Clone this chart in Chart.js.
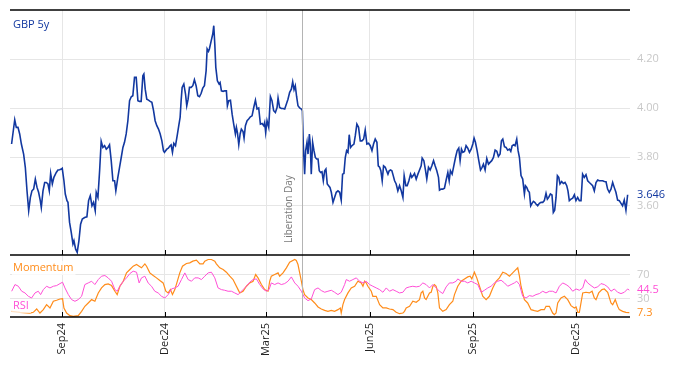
<!DOCTYPE html>
<html>
<head>
<meta charset="utf-8">
<script src="https://cdn.jsdelivr.net/npm/chart.js@4.4.1/dist/chart.umd.min.js"></script>
<style>
  body { margin: 0; background: #fff; }
  #wrap { width: 674px; height: 366px; }
</style>
</head>
<body>
<div id="wrap"><canvas id="chart" width="674" height="366"></canvas></div>
<script>
// ===== Data (day offset from startDate, value) =====
const startDate = '2024-07-18';

const gbp5y = [
  [0,3.853],[2.8,3.952],[4.2,3.921],[5.7,3.921],[7.2,3.894],[8.7,3.853],[10.7,3.812],[12.2,3.758],[13.7,3.662],[15.2,3.581],
  [16.7,3.635],[18.1,3.662],[19.6,3.669],[21.1,3.710],[22.6,3.676],[24.0,3.656],[25.5,3.622],[26.4,3.594],[27.9,3.662],[29.4,3.696],
  [30.8,3.696],[32.3,3.690],[33.5,3.662],[34.7,3.733],[36.2,3.690],[37.6,3.717],[39.7,3.737],[41.2,3.747],[42.7,3.748],[44.2,3.751],
  [45.0,3.754],[46.5,3.703],[47.7,3.649],[49.2,3.622],[50.1,3.615],[51.5,3.533],[53.0,3.492],[54.5,3.445],[55.4,3.458],[56.9,3.424],
  [58.3,3.411],[59.8,3.458],[61.3,3.526],[62.8,3.547],[64.9,3.553],[66.9,3.556],[68.4,3.622],[69.9,3.642],[71.4,3.601],[72.8,3.615],
  [74.3,3.581],[75.2,3.656],[76.7,3.635],[78.2,3.744],[79.6,3.864],[81.1,3.839],[82.6,3.846],[84.1,3.832],[85.6,3.839],[87.0,3.850],
  [88.5,3.785],[90.0,3.703],[91.5,3.703],[92.6,3.662],[94.4,3.717],[95.9,3.758],[97.4,3.798],[98.9,3.839],[100.3,3.860],[101.8,3.894],
  [103.3,3.948],[104.8,4.030],[106.3,4.046],[107.7,4.050],[109.2,4.125],[110.7,4.125],[112.2,4.030],[113.6,4.027],[115.1,4.027],[116.6,4.132],
  [117.5,4.139],[118.7,4.077],[120.1,4.036],[121.6,4.032],[123.1,4.027],[124.6,4.023],[126.1,3.989],[127.5,3.948],[129.0,3.928],[130.5,3.914],
  [132.0,3.894],[133.5,3.866],[134.9,3.826],[135.8,3.819],[137.9,3.832],[139.2,3.836],[140.8,3.846],[141.7,3.850],[142.9,3.819],[144.1,3.856],
  [145.6,3.846],[147.1,3.887],[148.5,3.928],[149.7,3.962],[150.6,4.030],[151.5,4.084],[153.0,4.098],[154.5,4.057],[155.6,4.009],[156.8,4.036],
  [158.0,4.084],[159.5,4.084],[161.0,4.091],[162.4,4.115],[163.9,4.091],[165.4,4.050],[166.9,4.046],[168.4,4.060],[169.8,4.081],[171.3,4.091],
  [172.8,4.152],[173.7,4.241],[174.9,4.231],[175.7,4.241],[177.2,4.272],[178.7,4.302],[179.6,4.336],[180.5,4.261],[181.4,4.166],[182.8,4.111],
  [184.3,4.098],[185.2,4.104],[186.4,4.070],[187.9,4.068],[189.3,4.070],[190.8,4.070],[191.7,4.009],[192.9,4.030],[194.4,4.032],[195.9,3.975],
  [197.3,3.934],[198.8,3.894],[199.7,3.921],[200.6,3.900],[201.8,3.850],[203.0,3.894],[204.1,3.914],[205.6,3.904],[206.5,3.877],[207.7,3.928],
  [209.2,3.948],[210.6,3.955],[212.1,3.964],[213.6,3.968],[215.1,4.002],[216.6,4.032],[218.0,3.996],[219.5,4.000],[221.0,3.934],[222.5,3.937],
  [224.0,3.928],[224.8,3.941],[225.7,3.900],[226.9,3.948],[228.4,3.921],[229.9,4.047],[231.3,4.030],[232.8,3.989],[234.3,3.982],[235.8,4.002],
  [236.7,4.041],[238.1,4.002],[239.6,3.998],[241.1,3.998],[242.6,3.996],[244.1,4.016],[245.5,4.036],[247.0,4.064],[248.5,4.077],[249.7,4.107],
  [250.9,4.075],[252.0,4.091],[253.2,4.046],[254.4,4.009],[255.9,4.000],[257.4,3.996],[258.3,3.989],[259.1,3.853],[260.3,3.730],[261.2,3.826],
  [262.4,3.860],[263.3,3.812],[264.5,3.894],[265.3,3.853],[266.2,3.730],[267.4,3.860],[268.6,3.826],[269.8,3.798],[271.0,3.792],[272.2,3.792],
  [273.3,3.744],[274.5,3.737],[275.7,3.740],[276.9,3.703],[278.1,3.744],[279.2,3.751],[280.4,3.690],[281.6,3.683],[282.8,3.676],[284.0,3.656],
  [285.5,3.615],[286.9,3.635],[288.4,3.656],[289.9,3.662],[291.4,3.656],[292.8,3.624],[294.0,3.730],[295.2,3.733],[296.4,3.798],[297.6,3.826],
  [298.8,3.819],[299.9,3.891],[301.1,3.839],[302.3,3.846],[304.1,3.853],[305.3,3.887],[306.7,3.934],[308.2,3.921],[309.7,3.866],[311.2,3.866],
  [312.7,3.873],[314.1,3.910],[315.6,3.853],[317.1,3.856],[318.6,3.846],[320.1,3.826],[321.5,3.853],[323.0,3.873],[324.5,3.860],[325.7,3.764],
  [326.9,3.758],[328.0,3.744],[329.2,3.703],[330.4,3.764],[331.9,3.758],[333.1,3.744],[334.3,3.730],[335.4,3.744],[336.6,3.747],[337.8,3.744],
  [339.0,3.724],[340.2,3.703],[341.6,3.690],[343.1,3.662],[344.6,3.683],[346.1,3.662],[347.6,3.635],[348.7,3.724],[350.2,3.683],[351.4,3.683],
  [352.9,3.703],[354.4,3.730],[355.5,3.717],[356.7,3.724],[357.9,3.733],[359.4,3.710],[360.9,3.730],[362.1,3.744],[363.8,3.764],[364.7,3.796],
  [366.2,3.785],[367.7,3.744],[368.8,3.710],[370.3,3.758],[371.8,3.747],[373.3,3.764],[374.8,3.785],[376.2,3.764],[377.7,3.744],[379.2,3.717],
  [380.1,3.665],[381.6,3.669],[383.0,3.669],[384.5,3.673],[386.0,3.706],[387.5,3.737],[388.7,3.703],[389.8,3.744],[391.3,3.730],[392.8,3.764],
  [394.3,3.798],[395.8,3.826],[397.2,3.836],[398.4,3.785],[399.6,3.832],[400.8,3.819],[402.3,3.823],[403.7,3.846],[405.2,3.836],[406.7,3.819],
  [408.2,3.832],[409.7,3.853],[410.8,3.877],[412.0,3.860],[413.5,3.826],[415.0,3.785],[416.5,3.747],[417.9,3.758],[419.1,3.771],[420.6,3.747],
  [422.1,3.794],[423.6,3.771],[425.0,3.778],[426.5,3.785],[428.0,3.798],[429.5,3.828],[431.0,3.823],[432.4,3.802],[433.9,3.812],[435.1,3.866],
  [436.3,3.873],[437.8,3.842],[439.2,3.839],[440.7,3.828],[442.2,3.832],[443.4,3.823],[444.6,3.846],[446.0,3.850],[447.2,3.846],[448.7,3.873],
  [449.9,3.826],[451.1,3.798],[452.5,3.724],[454.0,3.710],[455.5,3.649],[456.4,3.683],[457.6,3.676],[458.8,3.662],[459.9,3.656],[461.1,3.601],
  [462.3,3.611],[463.5,3.619],[464.7,3.615],[465.8,3.608],[467.3,3.601],[468.8,3.611],[470.3,3.615],[471.8,3.615],[473.2,3.622],[474.7,3.652],
  [475.9,3.628],[477.1,3.635],[478.6,3.649],[480.0,3.645],[481.2,3.574],[482.4,3.583],[483.6,3.635],[484.8,3.724],[486.0,3.717],[487.1,3.690],
  [488.6,3.700],[490.1,3.692],[491.6,3.696],[493.1,3.683],[494.2,3.662],[495.4,3.622],[496.9,3.628],[498.4,3.632],[499.9,3.646],[501.3,3.622],
  [502.8,3.635],[504.3,3.622],[505.8,3.622],[507.2,3.730],[508.7,3.717],[510.2,3.728],[511.7,3.703],[513.2,3.696],[514.6,3.690],[516.1,3.683],
  [517.6,3.662],[519.1,3.696],[520.6,3.706],[522.0,3.703],[523.5,3.703],[525.0,3.703],[526.5,3.700],[528.0,3.699],[529.4,3.669],[530.9,3.656],
  [532.4,3.669],[533.9,3.696],[535.3,3.676],[536.8,3.656],[538.3,3.624],[539.8,3.622],[541.3,3.611],[542.7,3.601],[544.2,3.624],[545.7,3.583],
  [547.2,3.646]
];

const momentum = [
  [0.1,9.4],[7.5,7.8],[16.4,6.6],[19.3,7.8],[22.3,13.3],[25.2,6.6],[28.2,12.2],[31.1,20.5],[34.1,15.0],[37.1,26.1],
  [40.0,27.8],[43.0,29.9],[45.3,30.5],[46.5,15.0],[48.9,6.6],[51.8,2.2],[54.8,1.1],[59.2,2.2],[62.2,9.4],[65.1,17.8],
  [68.1,23.3],[71.1,28.9],[74.0,26.1],[77.0,40.0],[79.9,48.3],[82.9,53.9],[85.8,55.0],[88.8,52.2],[91.8,42.8],[93.8,37.2],
  [96.2,51.1],[99.2,59.4],[102.1,73.3],[105.1,78.9],[108.0,84.4],[111.0,87.2],[113.3,84.4],[115.4,81.7],[118.4,88.3],[119.9,84.4],
  [122.8,73.3],[125.8,68.9],[128.7,65.0],[131.7,60.5],[134.6,56.6],[137.0,42.8],[139.1,40.0],[141.1,45.5],[142.9,37.2],[145.0,45.5],
  [146.8,56.6],[149.4,73.3],[151.8,84.4],[155.3,88.9],[158.3,90.0],[161.0,92.8],[164.2,94.4],[167.2,88.3],[170.1,88.3],[171.6,92.8],
  [174.6,95.5],[177.5,95.5],[180.5,92.8],[181.9,88.3],[184.9,81.7],[187.9,78.9],[190.8,74.4],[193.8,67.8],[196.7,62.2],[201.2,45.5],
  [202.7,40.0],[205.6,42.8],[208.6,51.1],[211.5,56.6],[214.5,59.4],[216.8,70.5],[218.9,65.0],[221.9,53.9],[224.8,45.5],[227.8,42.8],
  [229.3,59.4],[230.7,67.8],[233.7,70.5],[236.7,73.3],[238.1,67.8],[241.1,73.3],[244.1,81.7],[247.0,91.1],[251.5,95.5],[252.9,93.9],
  [254.4,87.2],[255.9,73.3],[257.4,59.4],[258.8,45.5],[260.3,37.2],[263.3,31.6],[266.2,28.9],[269.2,23.3],[272.2,16.6],[275.1,13.3],
  [278.1,11.1],[281.0,9.4],[284.0,11.1],[286.9,9.4],[289.9,12.2],[292.0,15.0],[292.8,6.6],[294.3,20.5],[295.8,28.9],[298.8,40.0],
  [301.7,48.3],[304.7,51.1],[307.6,59.4],[310.6,56.6],[312.1,51.1],[313.6,59.4],[315.0,56.6],[316.5,51.1],[319.5,42.8],[320.9,34.4],
  [323.9,34.4],[326.9,20.5],[329.8,15.0],[332.8,15.0],[335.7,13.3],[338.7,12.2],[341.6,7.8],[344.6,5.5],[347.6,6.6],[349.0,9.4],
  [350.5,15.0],[353.5,17.8],[356.4,26.1],[359.4,24.4],[362.3,28.9],[363.8,40.0],[365.3,42.8],[366.8,31.6],[368.2,28.9],[369.7,34.4],
  [371.2,40.0],[372.7,41.1],[374.2,51.1],[375.6,53.9],[377.1,51.1],[378.6,40.0],[380.1,15.0],[383.0,9.4],[386.0,12.2],[388.9,20.5],
  [391.9,26.1],[393.4,37.2],[396.3,51.1],[399.3,59.4],[402.3,63.3],[405.2,66.6],[407.3,67.8],[408.8,63.3],[411.1,74.4],[413.2,65.0],
  [415.6,51.1],[418.5,34.4],[421.5,28.9],[424.4,34.4],[427.4,48.3],[430.4,59.4],[433.3,65.0],[436.3,74.4],[439.2,72.2],[442.2,67.8],
  [445.1,73.3],[447.5,77.8],[449.6,81.7],[451.1,67.8],[452.5,51.1],[455.5,28.9],[458.4,23.3],[461.4,12.2],[464.4,10.5],[467.3,9.4],
  [470.3,12.2],[473.2,12.2],[474.7,17.8],[477.7,17.8],[480.6,6.6],[482.1,3.9],[483.6,6.6],[485.1,23.3],[488.0,31.6],[491.0,34.4],
  [494.0,28.9],[496.9,18.9],[499.9,15.0],[501.4,16.6],[502.9,7.8],[504.3,7.8],[507.3,40.0],[510.2,41.1],[513.2,40.0],[515.6,42.8],
  [517.6,31.6],[519.1,28.9],[521.5,40.0],[524.4,45.5],[526.5,46.6],[529.5,41.1],[532.4,23.3],[533.9,20.5],[536.2,28.9],[538.3,17.8],
  [539.8,12.2],[542.8,9.4],[545.7,7.8],[548.7,7.3]
];

const rsi = [
  [0.1,42.8],[3.0,53.9],[6.0,51.1],[9.0,42.8],[11.9,40.0],[14.9,34.4],[17.8,31.6],[20.8,40.0],[23.7,42.8],[25.8,37.2],
  [28.2,45.5],[31.1,51.1],[34.1,48.3],[37.1,51.1],[40.0,52.2],[43.0,55.5],[45.3,57.8],[47.4,48.3],[50.4,37.2],[53.3,28.9],
  [56.3,26.1],[59.2,28.9],[62.2,34.4],[65.1,53.9],[68.1,56.6],[71.1,59.4],[74.0,53.9],[77.0,62.2],[79.9,67.8],[82.9,68.9],
  [85.8,65.0],[88.8,59.4],[91.8,45.5],[93.8,42.8],[96.2,51.1],[99.2,59.4],[102.1,65.0],[105.1,72.2],[108.0,76.1],[111.0,74.4],
  [113.3,56.6],[115.4,65.0],[118.4,67.8],[121.3,56.6],[124.3,51.1],[127.2,42.8],[130.2,40.0],[133.2,34.4],[136.1,31.6],[139.1,37.2],
  [142.0,46.6],[145.0,48.3],[147.9,51.1],[150.9,62.2],[153.9,73.3],[156.8,62.2],[159.8,59.4],[162.7,65.0],[165.7,65.0],[168.6,62.2],
  [171.6,67.8],[174.6,73.3],[177.5,74.4],[180.5,65.0],[183.4,48.3],[186.4,45.5],[189.3,44.4],[192.3,42.8],[195.3,42.8],[198.2,40.0],
  [201.2,37.2],[202.7,40.0],[205.6,45.5],[208.6,51.1],[211.5,57.8],[214.5,62.2],[217.5,63.3],[220.4,53.9],[223.4,46.6],[226.3,42.8],
  [228.7,45.5],[230.7,56.6],[233.7,53.9],[236.7,56.6],[239.6,53.9],[242.6,55.5],[245.5,59.4],[248.5,66.6],[251.5,56.6],[254.4,51.1],
  [257.4,42.8],[260.3,31.6],[263.3,27.2],[266.2,30.0],[269.2,45.5],[272.2,48.3],[275.1,43.9],[278.1,41.1],[281.0,42.8],[284.0,44.4],
  [286.9,41.1],[289.9,37.2],[292.8,41.1],[295.8,53.9],[297.3,62.2],[300.2,59.4],[303.2,62.2],[306.2,65.0],[309.1,59.4],[312.1,56.6],
  [315.0,59.4],[318.0,53.9],[320.9,51.1],[323.9,48.3],[326.9,45.5],[329.8,41.1],[332.8,48.3],[335.7,42.8],[338.7,45.5],[341.6,42.8],
  [344.6,40.0],[347.6,41.1],[350.5,48.3],[353.5,50.0],[356.4,51.1],[359.4,50.0],[362.3,51.1],[365.3,56.6],[368.2,53.9],[371.2,48.3],
  [374.2,53.9],[377.1,48.3],[380.1,42.8],[383.0,38.9],[386.0,50.0],[388.9,56.6],[391.9,56.6],[394.9,59.4],[396.3,63.3],[399.3,59.4],
  [402.3,59.4],[405.2,56.6],[408.2,59.4],[411.1,56.6],[414.1,53.9],[417.1,41.1],[420.0,44.4],[423.0,48.3],[425.9,51.1],[428.9,56.6],
  [431.8,59.4],[434.8,61.1],[437.8,56.6],[440.7,51.1],[443.7,53.9],[446.6,56.6],[448.7,59.4],[451.1,53.9],[454.0,34.4],[457.0,31.6],
  [459.9,35.5],[462.9,34.4],[465.8,37.2],[468.8,38.9],[471.8,42.8],[474.7,40.0],[477.7,42.8],[480.6,42.8],[483.6,40.0],[486.6,51.1],
  [489.5,56.6],[492.5,53.9],[495.4,50.0],[498.4,42.8],[501.4,46.6],[504.3,44.4],[507.3,48.3],[509.6,62.2],[511.7,56.6],[514.7,52.2],
  [517.6,48.3],[520.6,50.0],[523.5,55.5],[526.5,53.9],[529.5,50.0],[532.4,42.8],[535.4,46.6],[538.3,41.1],[541.3,38.9],[544.3,41.1],
  [547.2,46.6],[548.7,44.5]
];

const tickDates = ['2024-09-01', '2024-12-01', '2025-03-01', '2025-06-01', '2025-09-01', '2025-12-01'];
const tickLabels = ['Sep24', 'Dec24', 'Mar25', 'Jun25', 'Sep25', 'Dec25'];
const priceTicks = [3.6, 3.8, 4.0, 4.2];
const oscTicks = [30, 70];
const eventDate = '2025-04-02';
const eventLabel = 'Liberation Day';

// ===== Colours =====
const BLUE = '#1238a0';
const ORANGE = '#ff8c1a';
const PINK = '#ff4fd6';
const GRID = '#e6e6e6';
const FONT = "'Open Sans', sans-serif";

// ===== Helpers =====
const DAY = 86400000;
const t0 = Date.parse(startDate + 'T00:00:00Z');
const dayOf = s => (Date.parse(s + 'T00:00:00Z') - t0) / DAY;
const toPoints = rows => rows.map(([d, v]) => ({ x: d, y: v }));
const lastOf = rows => rows[rows.length - 1][1];

// right-hand axes: fixed width, no extra label padding above/below
const fixRightAxis = s => {
    s.width = 44;
    s.paddingTop = 0;
    s.paddingBottom = 0;
};

// ===== Overlay: frame lines, event marker, series labels, last values =====
const overlay = {
    id: 'overlay',
    afterDatasetsDraw(chart) {
        const { ctx, chartArea: area } = chart;
        const { x, y, y2 } = chart.scales;
        ctx.save();

        // event line + rotated label
        const ex = Math.round(x.getPixelForValue(dayOf(eventDate))) + 0.5;
        ctx.strokeStyle = '#b4b4b4';
        ctx.lineWidth = 1;
        ctx.beginPath();
        ctx.moveTo(ex, area.top);
        ctx.lineTo(ex, area.bottom);
        ctx.stroke();
        ctx.save();
        ctx.translate(ex - 13, y.bottom - 12);
        ctx.rotate(-Math.PI / 2);
        ctx.font = '10px ' + FONT;
        ctx.fillStyle = '#7a7a7a';
        ctx.textAlign = 'left';
        ctx.textBaseline = 'middle';
        ctx.fillText(eventLabel, 0, 0);
        ctx.restore();

        // horizontal frame lines
        ctx.strokeStyle = '#000';
        ctx.lineWidth = 1.5;
        [y.top, y.bottom, y2.bottom].forEach(py => {
            ctx.beginPath();
            ctx.moveTo(area.left, py);
            ctx.lineTo(area.right, py);
            ctx.stroke();
        });

        // inward ticks at month marks
        ctx.lineWidth = 1;
        x.ticks.forEach(t => {
            const px = Math.round(x.getPixelForValue(t.value)) + 0.5;
            [y.bottom, y2.bottom].forEach(b => {
                ctx.beginPath();
                ctx.moveTo(px, b - 5);
                ctx.lineTo(px, b);
                ctx.stroke();
            });
        });

        // series names
        ctx.font = '11px ' + FONT;
        ctx.textAlign = 'left';
        ctx.textBaseline = 'middle';
        [['GBP 5y', BLUE, y.top + 15], ['Momentum', ORANGE, y2.top + 13], ['RSI', PINK, y2.bottom - 11]].forEach(([txt, col, py]) => {
            const w = ctx.measureText(txt).width;
            ctx.fillStyle = 'rgba(255,255,255,0.75)';
            ctx.fillRect(area.left + 2, py - 7, w + 3, 14);
            ctx.fillStyle = col;
            ctx.fillText(txt, area.left + 3, py);
        });

        // last values on the right axis
        const lx = area.right + 7;
        [[lastOf(gbp5y).toFixed(3), BLUE, y.getPixelForValue(lastOf(gbp5y))],
         [lastOf(rsi).toFixed(1), PINK, y2.getPixelForValue(lastOf(rsi))],
         [lastOf(momentum).toFixed(1), ORANGE, y2.getPixelForValue(lastOf(momentum))]].forEach(([txt, col, py]) => {
            ctx.fillStyle = col;
            ctx.fillText(txt, lx, py);
        });

        ctx.restore();
    }
};

// ===== Chart =====
Chart.defaults.font.family = FONT;
Chart.defaults.font.size = 11;

const tickDays = tickDates.map(dayOf);

new Chart(document.getElementById('chart'), {
    type: 'line',
    data: {
        datasets: [
            { label: 'GBP 5y', data: toPoints(gbp5y), yAxisID: 'y', borderColor: BLUE, borderWidth: 1.6, order: 1 },
            { label: 'RSI', data: toPoints(rsi), yAxisID: 'y2', borderColor: PINK, borderWidth: 1, order: 2 },
            { label: 'Momentum', data: toPoints(momentum), yAxisID: 'y2', borderColor: ORANGE, borderWidth: 1.2, order: 3 }
        ]
    },
    options: {
        responsive: false,
        animation: false,
        layout: { padding: { left: 10, top: 10, right: 0, bottom: 0 } },
        elements: { point: { radius: 0 }, line: { tension: 0 } },
        plugins: { legend: { display: false }, tooltip: { enabled: false } },
        scales: {
            x: {
                type: 'linear',
                min: -1.4,
                max: 549.3,
                afterBuildTicks: s => { s.ticks = tickDays.map(v => ({ value: v })); },
                afterFit: s => { s.height = 49; },
                grid: { color: GRID, drawTicks: false },
                border: { display: false },
                ticks: {
                    autoSkip: false,
                    minRotation: 90,
                    maxRotation: 90,
                    padding: 6,
                    color: '#222',
                    callback: v => tickLabels[tickDays.indexOf(v)] || ''
                }
            },
            y: {
                position: 'right',
                stack: 'panels',
                stackWeight: 245,
                min: 3.4,
                max: 4.4,
                afterBuildTicks: s => { s.ticks = priceTicks.map(v => ({ value: v })); },
                afterFit: fixRightAxis,
                grid: { color: GRID, drawTicks: false },
                border: { display: false },
                ticks: { color: '#c8c8c8', padding: 7, callback: v => Number(v).toFixed(2) }
            },
            y2: {
                position: 'right',
                stack: 'panels',
                stackWeight: 62,
                min: 0,
                max: 103,
                afterBuildTicks: s => { s.ticks = oscTicks.map(v => ({ value: v })); },
                afterFit: fixRightAxis,
                grid: { color: GRID, drawTicks: false },
                border: { display: false },
                ticks: { color: '#c8c8c8', padding: 7 }
            }
        }
    },
    plugins: [overlay]
});
</script>
</body>
</html>
